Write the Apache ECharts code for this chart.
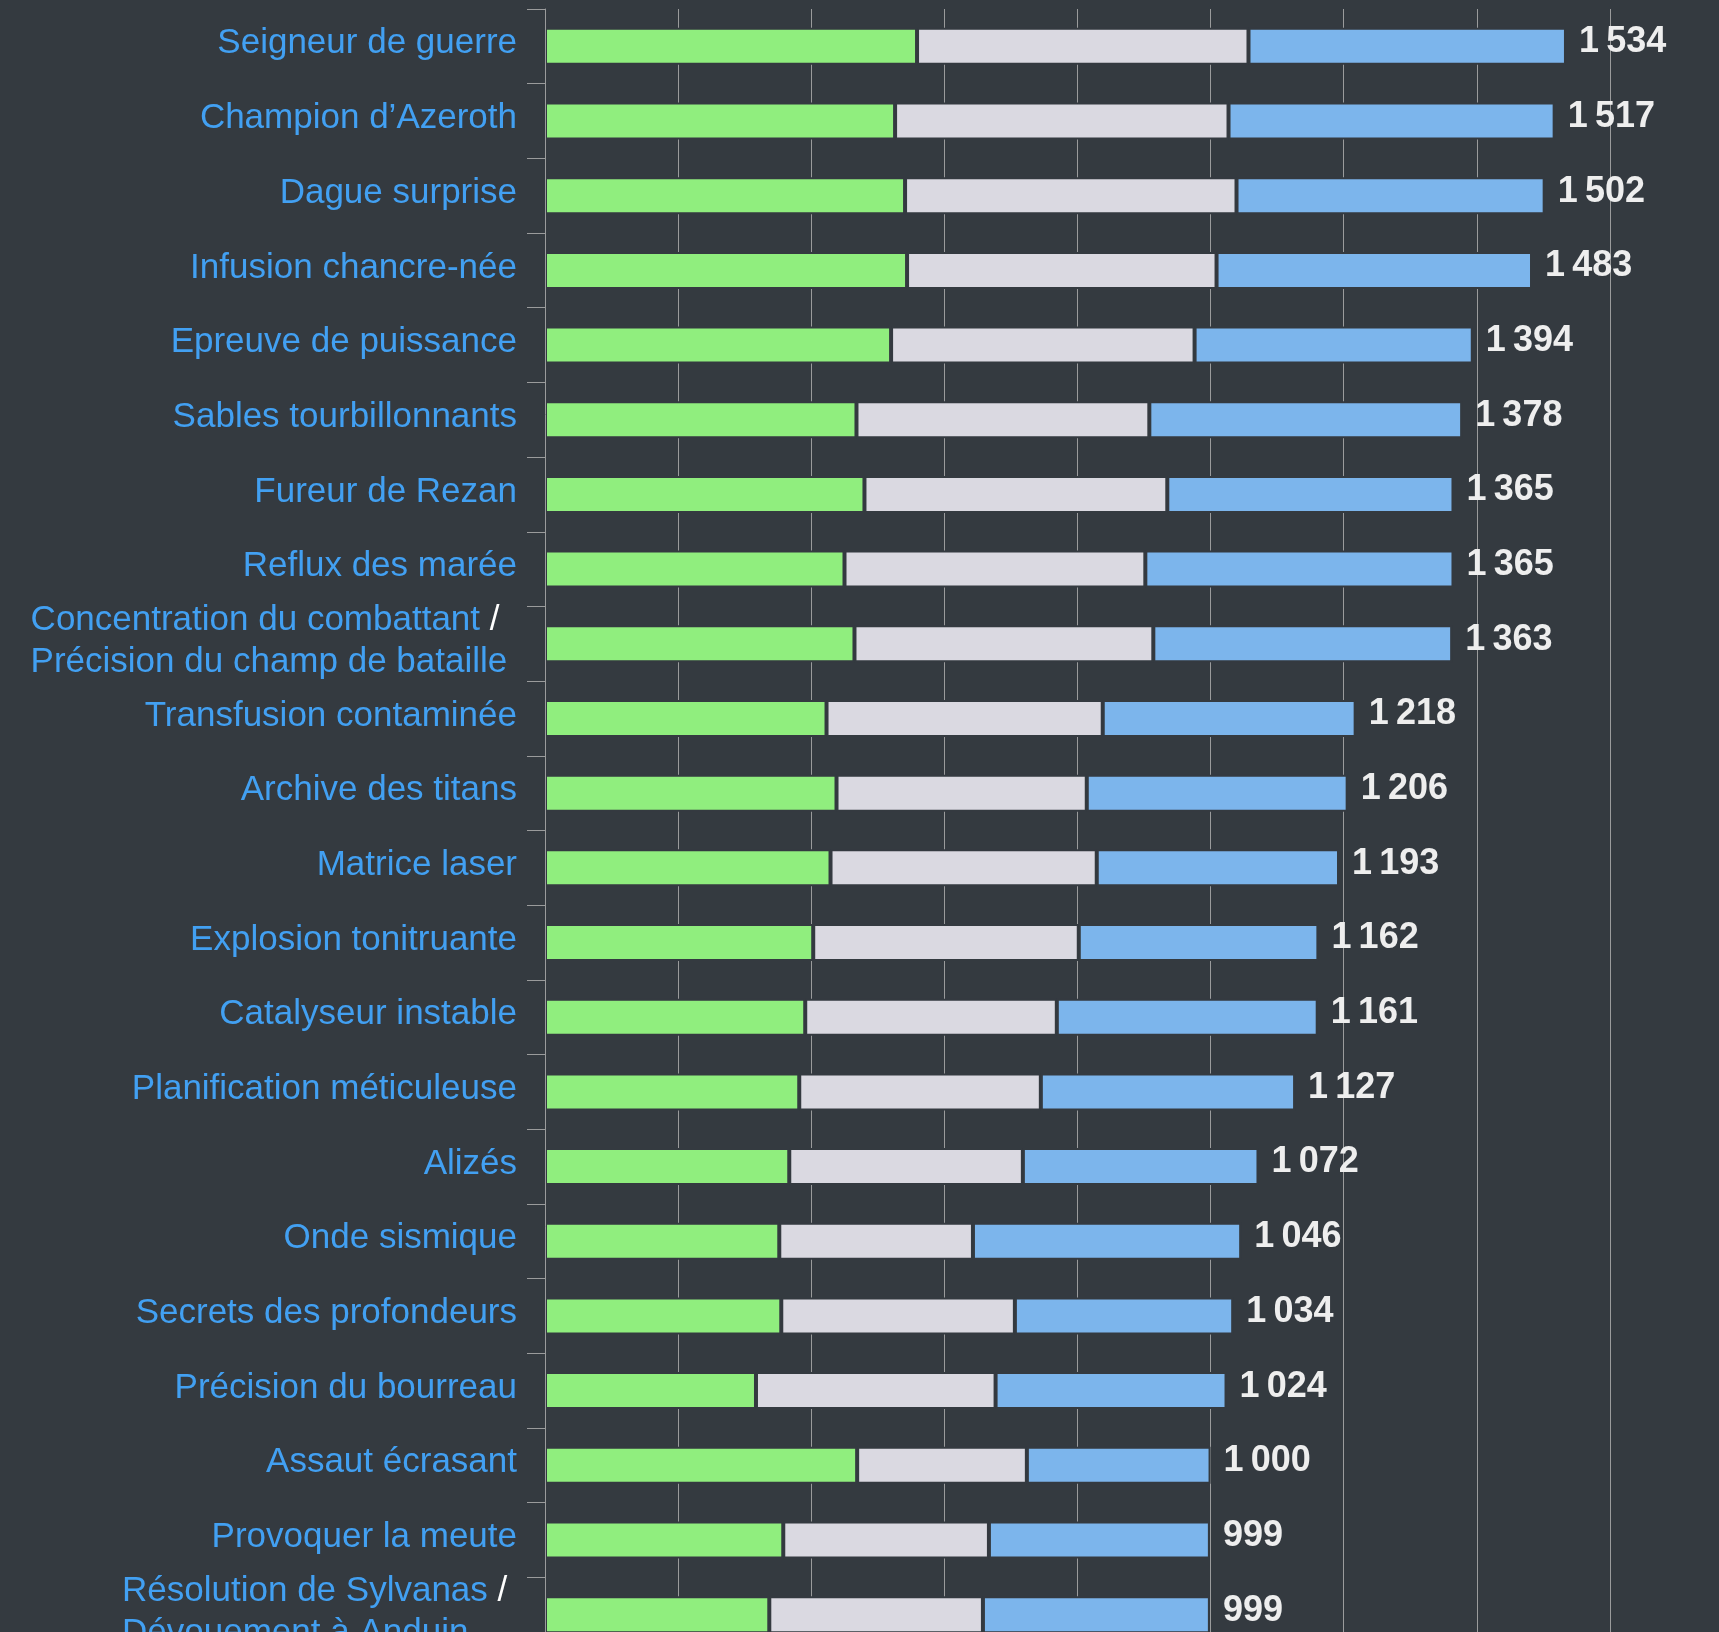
<!DOCTYPE html>
<html>
<head>
<meta charset="utf-8">
<script src="https://cdn.jsdelivr.net/npm/echarts@6/dist/echarts.min.js"></script>
<style>
html,body{margin:0;padding:0;background:#343a40;}
#c{width:1719px;height:1632px;}
</style>
</head>
<body>
<div id="c"></div>
<script>
// ---- data ----
const categories = [
  "Seigneur de guerre",
  "Champion d\u2019Azeroth",
  "Dague surprise",
  "Infusion chancre-n\u00e9e",
  "Epreuve de puissance",
  "Sables tourbillonnants",
  "Fureur de Rezan",
  "Reflux des mar\u00e9e",
  "Concentration du combattant / Pr\u00e9cision du champ de bataille",
  "Transfusion contamin\u00e9e",
  "Archive des titans",
  "Matrice laser",
  "Explosion tonitruante",
  "Catalyseur instable",
  "Planification m\u00e9ticuleuse",
  "Aliz\u00e9s",
  "Onde sismique",
  "Secrets des profondeurs",
  "Pr\u00e9cision du bourreau",
  "Assaut \u00e9crasant",
  "Provoquer la meute",
  "R\u00e9solution de Sylvanas / D\u00e9vouement \u00e0 Anduin"
];
const greenValues = [559, 526, 541, 544, 520, 468, 480, 450, 465, 423, 438, 429, 403, 391, 382, 367, 352, 355, 317, 469, 358, 337];
const greyValues  = [498, 501, 498, 465, 456, 440, 455, 452, 449, 415, 376, 400, 399, 378, 363, 351, 291, 351, 360, 255, 309, 321];
const blueValues  = [477, 490, 463, 474, 418, 470, 430, 463, 449, 380, 392, 364, 360, 392, 382, 354, 403, 328, 347, 276, 332, 341];
const xAxisMin = 0;
const xAxisMax = 1800;
const xAxisInterval = 200;

// ---- styling ----
const BG = '#343a40';
const LABEL_BLUE = '#42a0f2';
const GRID_GREY = '#9a9b9c';
const FONT = '"Liberation Sans", Arial, Helvetica, sans-serif';
const LABEL_SIZE = 35;

const measureCtx = document.createElement('canvas').getContext('2d');
function textWidth(t) {
  measureCtx.font = LABEL_SIZE + 'px ' + FONT;
  return measureCtx.measureText(t).width;
}

const rich = {
  b: { color: LABEL_BLUE, fontSize: LABEL_SIZE, fontFamily: FONT, lineHeight: 42 },
  w: { color: '#ffffff', fontSize: LABEL_SIZE, fontFamily: FONT, lineHeight: 42 }
};
const labelText = {};
categories.forEach(function (c, i) {
  const parts = c.split(' / ');
  if (parts.length === 1) {
    labelText[c] = '{b|' + c + '}';
    return;
  }
  const w1 = textWidth(parts[0] + ' / ');
  const w2 = textWidth(parts[1] + ' ');
  const W = Math.max(w1, w2);
  let s1 = '{b|' + parts[0] + '}{w| / }';
  let s2 = '{b|' + parts[1] + ' }';
  if (W - w1 > 0.5) {
    rich['p' + i + 'a'] = { width: W - w1, fontSize: LABEL_SIZE, lineHeight: 42 };
    s1 += '{p' + i + 'a| }';
  }
  if (W - w2 > 0.5) {
    rich['p' + i + 'b'] = { width: W - w2, fontSize: LABEL_SIZE, lineHeight: 42 };
    s2 += '{p' + i + 'b| }';
  }
  labelText[c] = s1 + '\n' + s2;
});

function fmtTotal(n) {
  const s = String(n);
  if (n < 1000) return s;
  return s.slice(0, s.length - 3) + '\u2009' + s.slice(s.length - 3);
}

const barCommon = {
  type: 'bar',
  stack: 'total',
  barWidth: 37,
  emphasis: { disabled: true },
  animation: false
};

const chart = echarts.init(document.getElementById('c'), null, { renderer: 'canvas' });
chart.setOption({
  backgroundColor: BG,
  animation: false,
  grid: {
    left: 545,
    right: -24,
    top: 9,
    bottom: -20,
    containLabel: false,
    outerBoundsMode: 'none'
  },
  xAxis: {
    type: 'value',
    min: xAxisMin,
    max: xAxisMax,
    interval: xAxisInterval,
    axisLine: { show: false },
    axisTick: { show: false },
    axisLabel: { show: false },
    splitLine: { show: true, lineStyle: { color: GRID_GREY, width: 1 } }
  },
  yAxis: {
    type: 'category',
    inverse: true,
    data: categories,
    z: 3,
    axisLine: { show: true, lineStyle: { color: GRID_GREY, width: 1 } },
    axisTick: { show: true, length: 18, lineStyle: { color: GRID_GREY, width: 1 } },
    splitLine: { show: false },
    axisLabel: {
      margin: 28,
      align: 'right',
      padding: [0, 0, 5, 0],
      formatter: function (v) { return labelText[v]; },
      rich: rich
    }
  },
  series: [
    Object.assign({}, barCommon, { name: 'green', data: greenValues, itemStyle: { color: '#90ee7e', borderColor: BG, borderWidth: 2 } }),
    Object.assign({}, barCommon, { name: 'grey', data: greyValues, itemStyle: { color: '#dad9e1', borderColor: BG, borderWidth: 2 } }),
    Object.assign({}, barCommon, {
      name: 'blue', data: blueValues,
      itemStyle: { color: '#7cb5ec', borderColor: BG, borderWidth: 2 },
      label: {
        show: true,
        position: 'right',
        distance: 13,
        offset: [0, -4],
        color: '#eeeeee',
        fontSize: 36,
        fontWeight: 'bold',
        fontFamily: FONT,
        formatter: function (p) {
          const i = p.dataIndex;
          return fmtTotal(greenValues[i] + greyValues[i] + blueValues[i]);
        }
      }
    })
  ]
});
</script>
</body>
</html>
